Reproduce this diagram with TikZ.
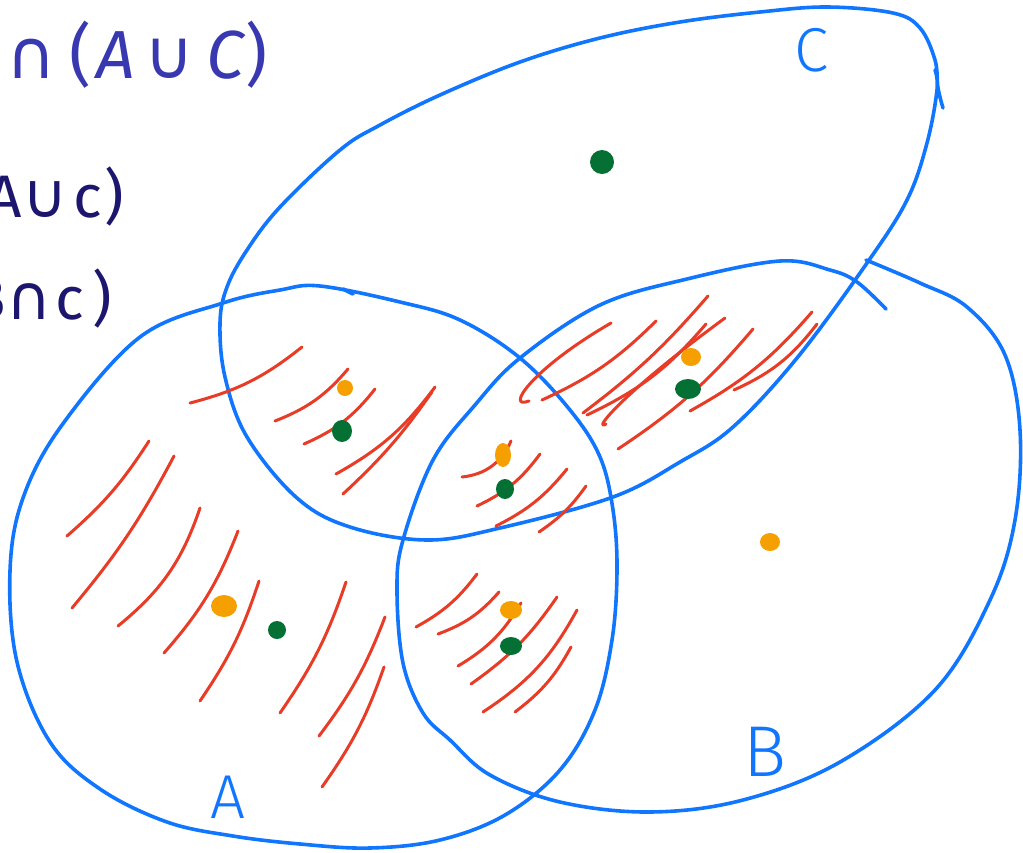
\documentclass[tikz,border=0pt]{standalone}
\usepackage{fontspec}
\setsansfont{Fira Sans}
\newfontfamily\symfont{DejaVu Sans}
\newfontfamily\handfont{Fira Sans Light}
\usetikzlibrary{positioning}

\definecolor{penblue}{RGB}{16,118,255}
\definecolor{penred}{RGB}{232,60,38}
\definecolor{penorange}{RGB}{245,160,0}
\definecolor{pengreen}{RGB}{4,112,52}
\definecolor{inknavy}{RGB}{28,22,110}
\definecolor{typeblue}{RGB}{56,56,176}

\newcommand{\smallop}[1]{{\symfont\fontsize{62}{62}\selectfont #1}}

\begin{document}
\begin{tikzpicture}[
  x=1pt, y=-1pt,
  outline/.style={penblue, line width=3.6pt, line cap=round, line join=round},
  hatch/.style={penred, line width=3pt, line cap=round, line join=round},
  odot/.style={fill=penorange},
  gdot/.style={fill=pengreen},
  setname/.style={text=penblue, inner sep=0pt, font=\handfont\fontsize{62}{62}\selectfont},
  note/.style={text=inknavy, inner sep=0pt, anchor=east, font=\sffamily\fontsize{60}{60}\selectfont}
]
\useasboundingbox (0,0) rectangle (1023,852);

% formula at the top, cut by the left edge
\node[text=typeblue, anchor=west, inner sep=0pt, font=\sffamily\fontsize{68}{68}\selectfont]
  (formula) at (6,55) {{\symfont ∩}\hspace{14pt}(\hspace{4pt}\textit{A}\hspace{10pt}{\symfont ∪}\hspace{12pt}\textit{C})};
\node[note] (noteAC) at (124,196) {A\smallop{∪}\hspace{6pt}c\hspace{2pt})};
\node[note] (noteBC) at (112,298) {B\smallop{∩}\hspace{4pt}c\hspace{8pt})};

% the three sets
\draw[outline] plot[smooth cycle, tension=0.6] coordinates {
  (400,302) (460,320) (520,358) (570,410) (600,457) (613,510) (617,570)
  (612,640) (595,710) (560,770) (505,815) (440,840) (370,848) (300,844)
  (233,836) (167,822) (100,789) (50,742) (17,662) (10,571) (23,498)
  (62,425) (140,337) (223,303) (280,290) (320,286)};
\draw[outline] (343,289) -- (353,294);

\draw[outline] plot[smooth, tension=0.6] coordinates {
  (866,260) (920,283) (967,307) (1005,355) (1020,430) (1015,520) (990,600)
  (935,690) (840,762) (743,800) (650,812) (560,802) (490,775) (450,740)
  (423,713) (403,663) (397,590) (403,540) (433,460) (475,405) (520,358)
  (600,305) (687,279) (780,261) (830,270) (857,282) (886,309)};

\draw[outline] plot[smooth, tension=0.6] coordinates {
  (943,108) (938,88) (935,60) (920,28) (893,13) (827,7) (760,12) (680,22)
  (600,38) (520,62) (440,95) (380,125) (340,150) (280,207) (247,250)
  (227,287) (220,323) (225,377) (247,437) (297,498) (350,527) (427,540)
  (500,528) (613,497) (680,462) (733,427) (797,358) (867,263) (907,200)
  (927,143) (937,90) (935,70)};

\node[setname] (setA) at (228,797) {A};
\node[setname, font=\handfont\fontsize{72}{72}\selectfont] (setB) at (765,752) {B};
\node[setname] (setC) at (812,50) {C};

% shading of the result
\foreach \xa/\ya/\xb/\yb/\bd in {
  190/403/302/347/12, 275/421/348/369/14, 304/444/375/389/14,
  336/474/435/387/12, 343/494/432/392/6, 67/536/149/441/8,
  72/608/174/456/6, 118/626/200/508/16, 164/653/238/531/10,
  200/701/259/581/8, 280/713/346/582/8, 319/736/385/617/8,
  322/787/384/667/8,
  462/477/511/441/30, 477/506/540/454/14, 496/526/567/469/12,
  539/532/586/486/10,
  542/400/656/321/10, 583/413/708/296/6, 587/415/706/324/12,
  618/449/753/329/8, 690/411/812/312/10, 734/390/817/324/14,
  416/627/477/574/12, 438/634/499/592/14, 458/666/521/603/14,
  471/684/557/597/10, 483/712/577/610/14, 515/712/571/647/12}
  \draw[hatch] (\xa,\ya) to[bend right=\bd] (\xb,\yb);
\draw[hatch] (529,401) .. controls (505,410) and (530,370) .. (611,323);
\draw[hatch] (606,424) .. controls (592,432) and (620,395) .. (725,318);

% elements
\fill[odot] (345,388) ellipse (8 and 8);
\fill[odot] (224,606) ellipse (13 and 11);
\fill[odot] (503,455) ellipse (8 and 12);
\fill[odot] (511,610) ellipse (11 and 9);
\fill[odot] (691,357) ellipse (10 and 9);
\fill[odot] (770,542) ellipse (10 and 9);
\fill[gdot] (342,431) ellipse (10 and 11);
\fill[gdot] (277,630) ellipse (9 and 9);
\fill[gdot] (505,489) ellipse (9 and 10);
\fill[gdot] (511,646) ellipse (11 and 9);
\fill[gdot] (688,389) ellipse (13 and 10);
\fill[gdot] (602,162) ellipse (12 and 12);
\end{tikzpicture}
\end{document}
